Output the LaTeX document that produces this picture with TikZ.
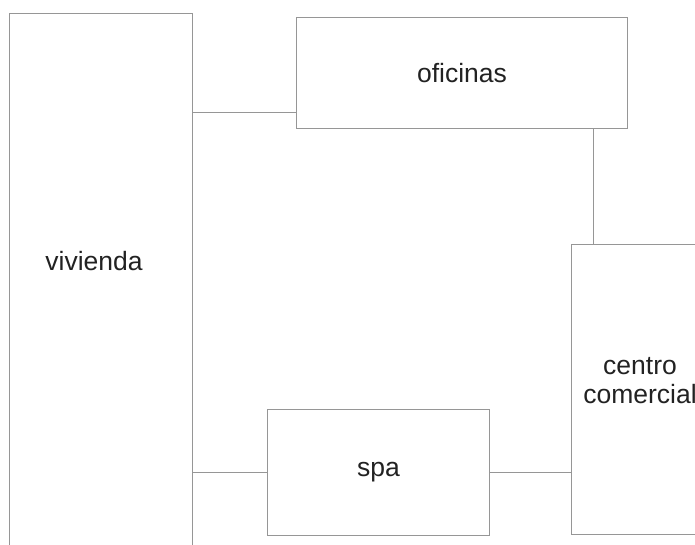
\documentclass[tikz,border=0pt]{standalone}
\usepackage{fontspec}
\setmainfont{Liberation Sans}
\usepackage{xcolor}
\usetikzlibrary{calc}

\definecolor{wallgray}{RGB}{150,150,150}
\definecolor{inkgray}{RGB}{34,34,34}

\tikzset{
	room/.style={draw=wallgray, line width=1pt, rectangle, inner sep=0pt, anchor=north west,
		text=inkgray, font=\fontsize{26.5}{29}\selectfont},
	roomtext/.style={inner sep=0pt, text=inkgray, font=\fontsize{26.5}{29}\selectfont},
	link/.style={draw=wallgray, line width=1pt}
}

\begin{document}
\begin{tikzpicture}[x=1pt, y=-1pt]
	\path[use as bounding box] (0,0) rectangle (695,545);
	\clip (0,0) rectangle (695,545);
	
	% rooms
	\node [room, minimum width=183pt, minimum height=560pt] (vivienda) at (9,13) {};
	\node [roomtext] (viviendatxt) at (94,261) {vivienda};
	
	\node [room, minimum width=331pt, minimum height=111pt] (oficinas) at (296,17) {oficinas};
	\node [room, minimum width=222pt, minimum height=126pt] (spa) at (267,409) {spa};
	
	\node [room, minimum width=140pt, minimum height=290pt] (centro) at (571,244) {};
	\node [roomtext, align=center] (centrotxt) at (640,381) {centro\\comercial};
	
	% links
	\draw [link] (vivienda.east |- 0,113) -- (oficinas.west |- 0,113);
	\draw [link] (oficinas.south -| 593,0) -- (centro.north -| 593,0);
	\draw [link] (vivienda.east |- spa.west) -- (spa.west);
	\draw [link] (spa.east) -- (centro.west |- spa.east);
\end{tikzpicture}
\end{document}
